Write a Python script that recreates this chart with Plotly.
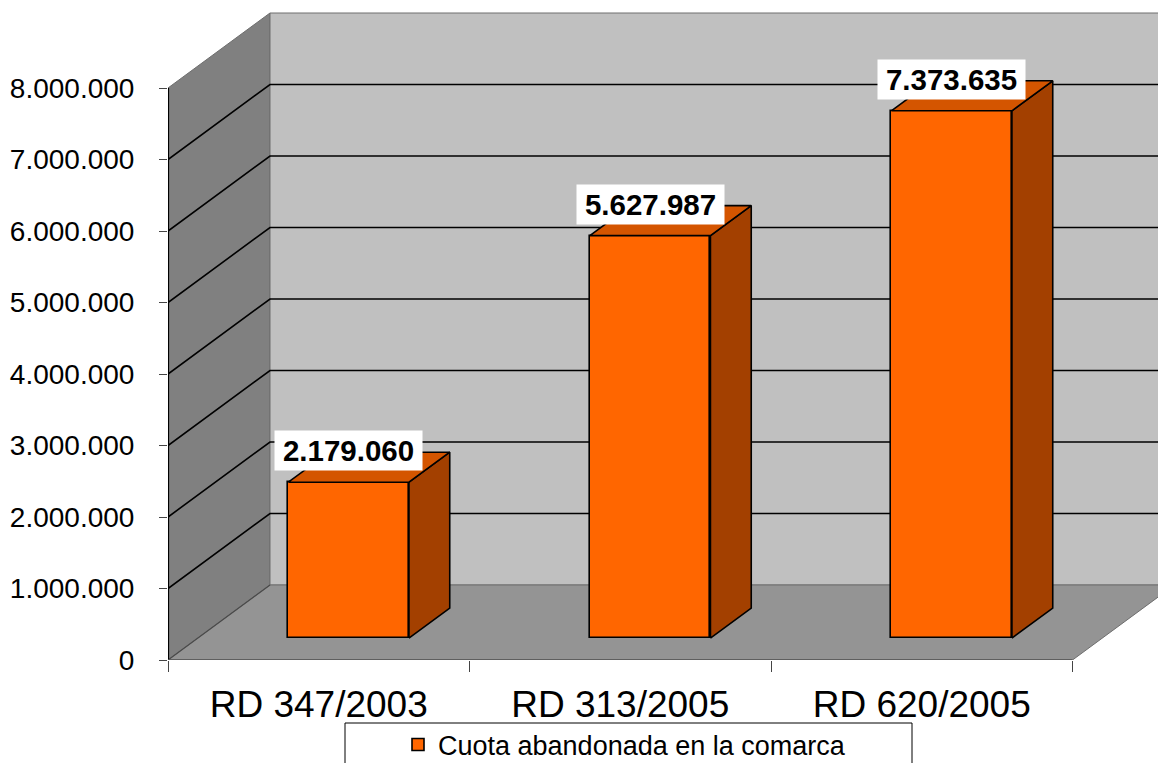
import plotly.graph_objects as go

# ---------------- data ----------------
categories = ["RD 347/2003", "RD 313/2005", "RD 620/2005"]
values = [2179060, 5627987, 7373635]
y_ticks = [0, 1000000, 2000000, 3000000, 4000000, 5000000, 6000000, 7000000, 8000000]
series_name = "Cuota abandonada en la comarca"

# ---------------- geometry / style ----------------
W, H = 1166, 763
OFF = 8                      # page body margin of the rendered html
left_px = 168 - OFF          # x of the value axis inside the figure
floor_px = 660 - OFF         # y of the category axis inside the figure
x_unit_px = 301.5
y_px_per_unit = 71.5 / 1e6

x_range = [0, (W - left_px) / x_unit_px]
y_range = [0, floor_px / y_px_per_unit]

depth_dx = 102 / x_unit_px          # wall depth (x units)
depth_dy = 75 / y_px_per_unit       # wall depth (y units)
front_frac, back_frac = 0.293, 0.693
bar_w = 0.4
n = len(categories)
ymax = max(y_ticks)

FONT = "Liberation Sans, Arial, sans-serif"
C_FRONT = "#FF6600"
C_SIDE = "#A34000"
C_TOP = "#D45500"
C_LEFTWALL = "#808080"
C_BACKWALL = "#C0C0C0"
C_FLOOR = "#949494"
C_EDGE = "#6E6E6E"


def path(pts, close=True):
    s = "M " + " L ".join(f"{x},{y}" for x, y in pts)
    return s + (" Z" if close else "")


shapes = []
# left wall
shapes.append(dict(type="path", xref="x", yref="y", layer="below",
                   path=path([(0, 0), (0, ymax), (depth_dx, ymax + depth_dy), (depth_dx, depth_dy)]),
                   fillcolor=C_LEFTWALL, line=dict(color=C_EDGE, width=1)))
# back wall
shapes.append(dict(type="path", xref="x", yref="y", layer="below",
                   path=path([(depth_dx, depth_dy), (n + depth_dx, depth_dy),
                              (n + depth_dx, ymax + depth_dy), (depth_dx, ymax + depth_dy)]),
                   fillcolor=C_BACKWALL, line=dict(color=C_EDGE, width=1)))
# floor
shapes.append(dict(type="path", xref="x", yref="y", layer="below",
                   path=path([(0, 0), (n, 0), (n + depth_dx, depth_dy), (depth_dx, depth_dy)]),
                   fillcolor=C_FLOOR, line=dict(color=C_EDGE, width=1)))
# gridlines (left wall diagonal + back wall horizontal)
for v in y_ticks[1:-1]:
    shapes.append(dict(type="path", xref="x", yref="y", layer="below",
                       path=path([(0, v), (depth_dx, v + depth_dy), (n + depth_dx, v + depth_dy)], close=False),
                       line=dict(color="black", width=1.6)))
# zero diagonal
shapes.append(dict(type="path", xref="x", yref="y", layer="below",
                   path=path([(0, 0), (depth_dx, depth_dy)], close=False),
                   line=dict(color="#4a4a4a", width=1.2)))
# value axis line
shapes.append(dict(type="line", xref="x", yref="y", layer="below",
                   x0=0, x1=0, y0=0, y1=ymax, line=dict(color="black", width=2.2)))
# category axis line
shapes.append(dict(type="line", xref="x", yref="y", layer="below",
                   x0=0, x1=n, y0=0, y1=0, line=dict(color="#555555", width=1.5)))
# legend box
shapes.append(dict(type="rect", xref="paper", yref="paper", layer="below",
                   x0=(345 - OFF) / W, x1=(912 - OFF) / W, y0=-0.1, y1=(H - (723 - OFF)) / H,
                   fillcolor="white", line=dict(color="black", width=1)))

fig = go.Figure()

front_x = [i + 0.5 + front_frac * depth_dx for i in range(n)]
base = front_frac * depth_dy
sdx = (back_frac - front_frac) * depth_dx
sdy = (back_frac - front_frac) * depth_dy

fig.add_trace(go.Bar(
    x=front_x, y=values, base=[base] * n, width=bar_w, name=series_name,
    marker=dict(color=C_FRONT, line=dict(color="black", width=1.6)),
    showlegend=True, hoverinfo="skip"))

for cx, v in zip(front_x, values):
    xl, xr = cx - bar_w / 2, cx + bar_w / 2
    t = base + v
    side = [(xr, base), (xr, t), (xr + sdx, t + sdy), (xr + sdx, base + sdy), (xr, base)]
    top = [(xl, t), (xr, t), (xr + sdx, t + sdy), (xl + sdx, t + sdy), (xl, t)]
    for pts, col in ((side, C_SIDE), (top, C_TOP)):
        fig.add_trace(go.Scatter(
            x=[p[0] for p in pts], y=[p[1] for p in pts], mode="lines",
            fill="toself", fillcolor=col, line=dict(color="black", width=1.6),
            showlegend=False, hoverinfo="skip"))

annotations = []
for cx, v in zip(front_x, values):
    annotations.append(dict(
        x=cx, y=base + v, xref="x", yref="y", yanchor="bottom", yshift=11,
        text=f"<b>{v:,}</b>".replace(",", "."), showarrow=False,
        bgcolor="white", width=147, height=39, borderpad=0,
        font=dict(family=FONT, size=29.5, color="black")))

fig.update_layout(
    width=W, height=H, margin=dict(l=0, r=0, t=0, b=0, autoexpand=False),
    paper_bgcolor="white", plot_bgcolor="rgba(0,0,0,0)",
    separators=",.",
    shapes=shapes, annotations=annotations,
    bargap=0,
    showlegend=True,
    legend=dict(orientation="h", x=(398 - OFF) / W, xanchor="left",
                y=(H - (745 - OFF)) / H, yanchor="middle",
                bgcolor="rgba(0,0,0,0)", borderwidth=0,
                font=dict(family=FONT, size=27, color="black")),
    xaxis=dict(domain=[left_px / W, 1], range=x_range, showgrid=False, zeroline=False,
               automargin=False,
               showline=False, tickmode="array", tickvals=[i + 0.5 for i in range(n)],
               ticktext=categories, ticks="", ticklabelstandoff=19,
               tickfont=dict(family=FONT, size=37, color="black"),
               minor=dict(tickmode="array", tickvals=list(range(n + 1)), ticks="outside",
                          ticklen=11, tickcolor="#444444", tickwidth=1.2, showgrid=False)),
    yaxis=dict(domain=[(H - floor_px) / H, 1], range=y_range, showgrid=False, zeroline=False,
               automargin=False,
               showline=False, tickmode="array", tickvals=y_ticks, tickformat=",d",
               ticks="outside", ticklen=8, tickcolor="#444444", tickwidth=1.2,
               ticklabelstandoff=19,
               tickfont=dict(family=FONT, size=28, color="black")),
)

fig.write_html("out.html")
